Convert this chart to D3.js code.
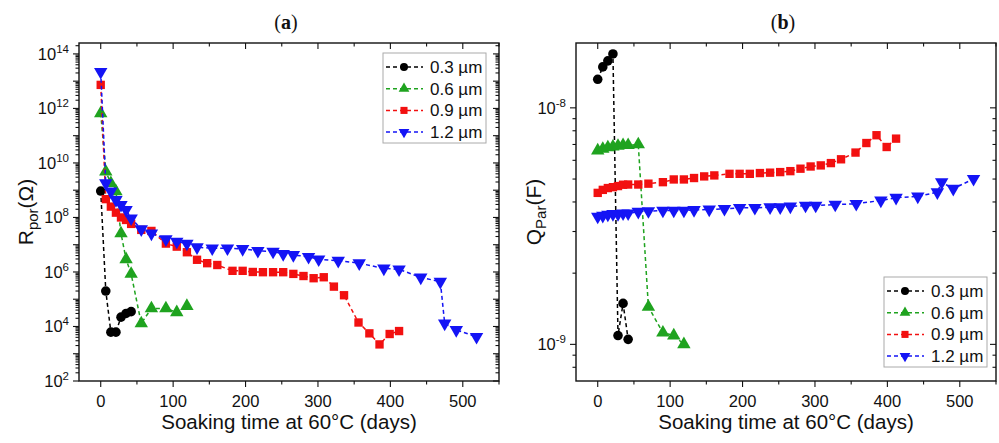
<!DOCTYPE html>
<html>
<head>
<meta charset="utf-8">
<script src="https://cdn.jsdelivr.net/npm/d3@7"></script>
<style>
  html, body { margin: 0; padding: 0; background: #fff; }
  svg { display: block; }
  text { font-family: "Liberation Sans", Arial, sans-serif; fill: #111; }
</style>
</head>
<body>
<svg id="chart" width="999" height="443"></svg>
<script>
// Soaking days at 60 °C for each coating thickness
const days03 = [0, 7, 14, 21, 28, 35, 42];
const days06 = [0, 7, 14, 21, 28, 35, 42, 56, 70, 90, 105, 119];
const days09 = [0, 7, 14, 21, 28, 35, 42, 56, 70, 90, 105, 119, 133, 147, 161, 182, 196, 210,
                224, 238, 252, 266, 280, 294, 308, 322, 336, 356, 371, 385, 399, 412];
const days12 = [0, 7, 14, 21, 28, 35, 42, 56, 70, 90, 105, 119, 133, 154, 175, 196, 217, 238,
                252, 266, 287, 301, 328, 357, 391, 412, 442, 469, 475, 491, 519];

// Pore resistance R_por (Ω)
const rpor03 = [9.3e8, 2.0e5, 6.2e3, 6.2e3, 2.2e4, 3.0e4, 3.5e4];
const rpor06 = [6.6e11, 4.8e9, 1.8e9, 9e8, 2.6e7, 2.9e6, 8.5e5, 1.3e4, 4.6e4, 4.6e4, 3.3e4, 5.6e4];
const rpor09 = [7.3e12, 4.7e8, 2.5e8, 1.5e8, 1.0e8, 8.1e7, 5.8e7, 3.5e7, 3.2e7, 1.1e7, 8.5e6, 5.3e6,
                2.8e6, 2.1e6, 1.8e6, 1.1e6, 1.1e6, 1.0e6, 9.8e5, 9.8e5, 9.8e5, 8.5e5, 7.1e5, 5.9e5,
                6.4e5, 2.9e5, 1.4e5, 1.4e4, 5.6e3, 2.2e3, 5.3e3, 6.8e3];
const rpor12 = [2.2e13, 1.8e9, 9e8, 4.4e8, 2.9e8, 1.9e8, 9.3e7, 3.7e7, 2.6e7, 1.6e7, 1.3e7, 1.1e7,
                8.1e6, 7.4e6, 7.4e6, 7e6, 6e6, 5.6e6, 4.6e6, 4.2e6, 3.6e6, 2.9e6, 2.6e6, 2.1e6,
                1.35e6, 1.25e6, 6.3e5, 4.4e5, 1.3e4, 7.5e3, 4.2e3];

// Pore capacitance Q_Par (F)
const qpar03 = [1.32e-8, 1.49e-8, 1.58e-8, 1.69e-8, 1.09e-9, 1.49e-9, 1.05e-9];
const qpar06 = [6.6e-9, 6.7e-9, 6.8e-9, 6.85e-9, 6.9e-9, 6.95e-9, 6.95e-9, 7.0e-9, 1.44e-9, 1.12e-9,
                1.09e-9, 1.0e-9];
const qpar09 = [4.37e-9, 4.50e-9, 4.58e-9, 4.62e-9, 4.67e-9, 4.73e-9, 4.74e-9, 4.74e-9, 4.78e-9,
                4.85e-9, 4.98e-9, 4.98e-9, 5.05e-9, 5.13e-9, 5.18e-9, 5.26e-9, 5.26e-9, 5.26e-9,
                5.30e-9, 5.32e-9, 5.35e-9, 5.40e-9, 5.53e-9, 5.65e-9, 5.71e-9, 5.84e-9, 6.06e-9,
                6.47e-9, 7.10e-9, 7.66e-9, 6.83e-9, 7.41e-9];
const qpar12 = [3.47e-9, 3.50e-9, 3.54e-9, 3.56e-9, 3.56e-9, 3.58e-9, 3.58e-9, 3.64e-9, 3.66e-9,
                3.68e-9, 3.68e-9, 3.68e-9, 3.70e-9, 3.72e-9, 3.74e-9, 3.78e-9, 3.78e-9, 3.80e-9,
                3.80e-9, 3.83e-9, 3.86e-9, 3.86e-9, 3.90e-9, 3.93e-9, 4.06e-9, 4.17e-9, 4.22e-9,
                4.40e-9, 4.85e-9, 4.55e-9, 5.01e-9];

const seriesNames = ["0.3 µm", "0.6 µm", "0.9 µm", "1.2 µm"];
const xTicks = [0, 100, 200, 300, 400, 500];

const colors = ["#000000", "#1fa31f", "#f21010", "#1414f5"];
const shapes = [d3.symbolCircle, d3.symbolTriangle, d3.symbolSquare, d3.symbolTriangle];
const flips = [false, false, false, true];
const markerSizes = [72, 78, 70, 78];

const svg = d3.select("#chart");

function superLabel(sel, base, exp) {
  sel.append("tspan").text(base);
  sel.append("tspan").attr("dy", -7).attr("font-size", 11.5).text(exp);
}

function drawPanel(opts) {
  const { left, top, width, height, yDomain, series, title, yMain, ySub, yTail,
          yLabelX, labelExps, legendPos } = opts;
  const g = svg.append("g");
  const x = d3.scaleLinear().domain([-30, 550]).range([left, left + width]);
  const y = d3.scaleLog().domain(yDomain).range([top + height, top]);
  const bottom = top + height, right = left + width;

  // log-axis ticks: decades (major) and 2..9 multiples (minor)
  const lo = Math.floor(Math.log10(yDomain[0])), hi = Math.ceil(Math.log10(yDomain[1]));
  const yMinor = [], yMajor = [];
  for (let e = lo; e <= hi; e++) {
    const dec = Math.pow(10, e);
    if (dec >= yDomain[0] * 0.999 && dec <= yDomain[1] * 1.001) yMajor.push(e);
    for (let m = 2; m <= 9; m++) {
      const v = m * dec;
      if (v > yDomain[0] * 1.001 && v < yDomain[1]) yMinor.push(v);
    }
  }

  const tickG = g.append("g").attr("stroke", "#111").attr("stroke-width", 1.1);
  // left (outward) and right (inward) y ticks
  yMajor.forEach(e => {
    const py = y(Math.pow(10, e));
    tickG.append("line").attr("x1", left - 6).attr("x2", left).attr("y1", py).attr("y2", py);
    tickG.append("line").attr("x1", right).attr("x2", right - 6).attr("y1", py).attr("y2", py);
  });
  yMinor.forEach(v => {
    const py = y(v);
    tickG.append("line").attr("x1", left - 3.5).attr("x2", left).attr("y1", py).attr("y2", py);
    tickG.append("line").attr("x1", right).attr("x2", right - 3.5).attr("y1", py).attr("y2", py);
  });
  // bottom (outward) and top (inward) x ticks
  d3.range(0, 551, 50).forEach(t => {
    const px = x(t), len = t % 100 === 0 ? 6 : 3.5;
    tickG.append("line").attr("x1", px).attr("x2", px).attr("y1", bottom).attr("y2", bottom + len);
    tickG.append("line").attr("x1", px).attr("x2", px).attr("y1", top).attr("y2", top + len);
  });

  // frame
  g.append("rect").attr("x", left).attr("y", top).attr("width", width).attr("height", height)
    .attr("fill", "none").attr("stroke", "#111").attr("stroke-width", 1.4);

  // tick labels
  xTicks.forEach(t => {
    g.append("text").attr("x", x(t)).attr("y", bottom + 26).attr("text-anchor", "middle")
      .attr("font-size", 16.5).text(t);
  });
  yMajor.filter(labelExps).forEach(e => {
    const t = g.append("text").attr("x", left - 10).attr("y", y(Math.pow(10, e)) + 6)
      .attr("text-anchor", "end").attr("font-size", 16.5);
    superLabel(t, "10", e < 0 ? "-" + (-e) : String(e));
  });

  // axis titles
  g.append("text").attr("x", left + width / 2).attr("y", bottom + 48).attr("text-anchor", "middle")
    .attr("font-size", 20.5).text("Soaking time at 60°C (days)");
  const yl = g.append("text").attr("transform", `translate(${yLabelX},${top + height / 2}) rotate(-90)`)
    .attr("text-anchor", "middle").attr("font-size", 21);
  yl.append("tspan").text(yMain);
  yl.append("tspan").attr("dy", 5).attr("font-size", 15).text(ySub);
  yl.append("tspan").attr("dy", -5).text(yTail);

  // panel title
  const tt = g.append("text").attr("x", left + width / 2 - 3).attr("y", 29).attr("text-anchor", "middle")
    .attr("font-size", 20).style("font-family", "'Liberation Serif', 'Times New Roman', serif");
  tt.append("tspan").text("(");
  tt.append("tspan").attr("font-weight", "bold").text(title);
  tt.append("tspan").text(")");

  // series
  const clipId = "clip-" + title;
  g.append("clipPath").attr("id", clipId).append("rect")
    .attr("x", left).attr("y", top).attr("width", width).attr("height", height);
  const plot = g.append("g").attr("clip-path", `url(#${clipId})`);
  const line = d3.line().x(d => x(d[0])).y(d => y(d[1]));
  series.forEach((s, i) => {
    const pts = s.days.map((d, k) => [d, s.values[k]]);
    plot.append("path").datum(pts).attr("d", line).attr("fill", "none")
      .attr("stroke", colors[i]).attr("stroke-width", 1.5).attr("stroke-dasharray", "4,3");
    const sym = d3.symbol().type(shapes[i]).size(markerSizes[i]);
    plot.selectAll(null).data(pts).join("path")
      .attr("d", sym)
      .attr("transform", d => `translate(${x(d[0])},${y(d[1])})${flips[i] ? " rotate(180)" : ""}`)
      .attr("fill", colors[i]);
  });

  // legend
  const lg = g.append("g");
  lg.append("rect").attr("x", legendPos.x).attr("y", legendPos.y).attr("width", 103).attr("height", 90)
    .attr("fill", "#fff").attr("stroke", "#aaa").attr("stroke-width", 1);
  seriesNames.forEach((name, i) => {
    const ry = legendPos.y + 14 + i * 21.7;
    lg.append("line").attr("x1", legendPos.x + 3).attr("x2", legendPos.x + 40).attr("y1", ry).attr("y2", ry)
      .attr("stroke", colors[i]).attr("stroke-width", 1.5).attr("stroke-dasharray", "4,3");
    lg.append("path").attr("d", d3.symbol().type(shapes[i]).size(50))
      .attr("transform", `translate(${legendPos.x + 21},${ry})${flips[i] ? " rotate(180)" : ""}`)
      .attr("fill", colors[i]);
    lg.append("text").attr("x", legendPos.x + 47).attr("y", ry + 6).attr("font-size", 17).text(name);
  });
}

drawPanel({
  left: 79, top: 43, width: 420, height: 338,
  yDomain: [1e2, Math.pow(10, 14.4)],
  series: [
    { days: days03, values: rpor03 },
    { days: days06, values: rpor06 },
    { days: days09, values: rpor09 },
    { days: days12, values: rpor12 }
  ],
  title: "a", yMain: "R", ySub: "por", yTail: "(Ω)", yLabelX: 33,
  labelExps: e => e % 2 === 0,
  legendPos: { x: 383, y: 53 }
});

drawPanel({
  left: 576, top: 43, width: 420, height: 338,
  yDomain: [7e-10, 1.88e-8],
  series: [
    { days: days03, values: qpar03 },
    { days: days06, values: qpar06 },
    { days: days09, values: qpar09 },
    { days: days12, values: qpar12 }
  ],
  title: "b", yMain: "Q", ySub: "Par", yTail: "(F)", yLabelX: 541,
  labelExps: e => true,
  legendPos: { x: 884, y: 277 }
});
</script>
</body>
</html>
